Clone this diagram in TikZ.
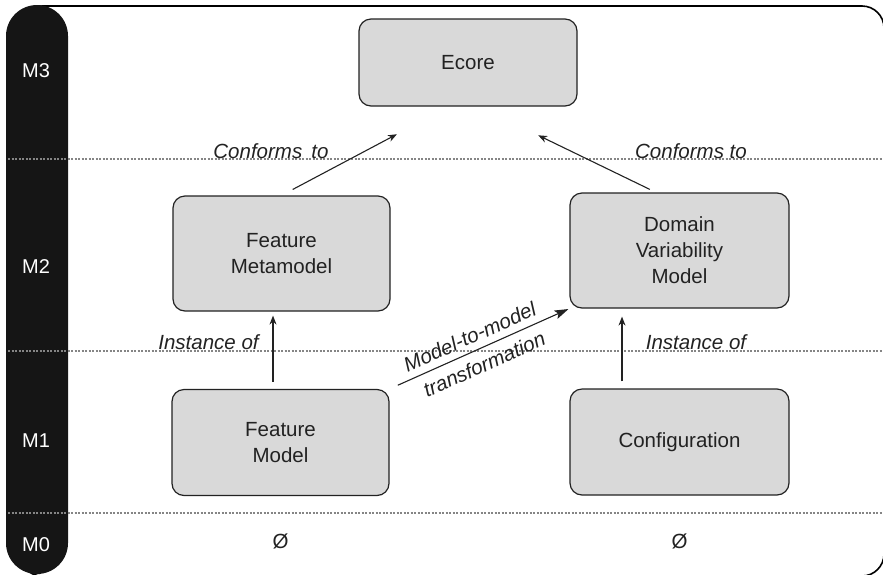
\documentclass[tikz,border=0pt]{standalone}
\usepackage{fontspec}
\setmainfont{Liberation Sans}
\usetikzlibrary{arrows.meta}
\definecolor{boxfill}{HTML}{D9D9D9}
\definecolor{boxline}{HTML}{222222}
\definecolor{barcol}{HTML}{151515}
\definecolor{dotcol}{HTML}{858585}
\begin{document}
\begin{tikzpicture}[x=1pt,y=-1pt,
  model/.style={draw=boxline, line width=1.2pt, fill=boxfill, rounded corners=12pt,
    align=center, text=boxline, font=\fontsize{20.5}{26}\selectfont, inner sep=0pt},
  level/.style={text=white, font=\fontsize{20}{24}\selectfont},
  rel/.style={font=\fontsize{20.5}{24}\selectfont\itshape, text=boxline, inner sep=2pt},
  conn/.style={line width=1.1pt, draw=boxline, -{Stealth[length=9pt,width=7pt]}},
  bigconn/.style={line width=1.1pt, draw=boxline, -{Stealth[length=14pt,width=9pt,inset=3pt]}},
  divider/.style={draw=dotcol, line width=2.4pt, dash pattern=on 2.2pt off 1.3pt}]
\useasboundingbox (0,0) rectangle (883,574);

% outer frame
\draw[line width=1.6pt, rounded corners=22pt] (20,6) rectangle (884,576);

% level bar
\fill[barcol, rounded corners=31pt] (6,5) rectangle (68,574);
\node[level] (m3) at (36,71) {M3};
\node[level] (m2) at (36,267) {M2};
\node[level] (m1) at (36,441) {M1};
\node[level] (m0) at (36,545) {M0};

% level dividers
\coordinate (d1l) at (8,159);   \coordinate (d1r) at (883,159);
\coordinate (d2l) at (8,351);   \coordinate (d2r) at (883,351);
\coordinate (d3l) at (8,513);   \coordinate (d3r) at (883,513);
\draw[divider] (d1l) -- (d1r);
\draw[divider] (d2l) -- (d2r);
\draw[divider] (d3l) -- (d3r);

% models
\node[model, minimum width=218pt, minimum height=87pt]  (ecore) at (468,62.5)   {Ecore};
\node[model, minimum width=217pt, minimum height=115pt] (fmm)   at (281.5,253.5) {Feature\\Metamodel};
\node[model, minimum width=219pt, minimum height=115pt] (dvm)   at (679.5,250.5) {Domain\\Variability\\Model};
\node[model, minimum width=217pt, minimum height=106pt] (fm)    at (280.5,442.5) {Feature\\Model};
\node[model, minimum width=219pt, minimum height=106pt] (conf)  at (679.5,442)   {Configuration};

% empty M0 level
\node[font=\fontsize{20.5}{24}\selectfont, text=boxline] (e1) at (280.5,541) {Ø};
\node[font=\fontsize{20.5}{24}\selectfont, text=boxline] (e2) at (679.5,541) {Ø};

% relations
\draw[conn, shorten <=12.7pt, shorten >=59pt] (fmm.north) -- ([xshift=-19pt]ecore.south);
\draw[conn, shorten <=6.8pt, shorten >=65.8pt] ([xshift=-23.5pt]dvm.north) -- ([xshift=11pt]ecore.south);
\draw[conn, shorten <=7pt, shorten >=4pt] ([xshift=-7.5pt]fm.north) -- ([xshift=-8.5pt]fmm.south);
\draw[conn, shorten <=7pt, shorten >=8pt] ([xshift=-57.5pt]conf.north) -- ([xshift=-57.5pt]dvm.south);
\draw[bigconn, shorten <=9pt, shorten >=1pt] (fm.north east) -- (dvm.south west)
  node[rel, pos=0.48, sloped, above=5pt] (m2ma) {Model-to-model}
  node[rel, pos=0.49, sloped, below=6pt] (m2mb) {transformation};

\node[rel] (cl) at (271,151) {Conforms\hspace{0.45em}to};
\node[rel] (cr) at (691,151) {Conforms to};
\node[rel] (il) at (208.5,342.5) {Instance of};
\node[rel] (ir) at (696,342.5) {Instance of};
\end{tikzpicture}
\end{document}
